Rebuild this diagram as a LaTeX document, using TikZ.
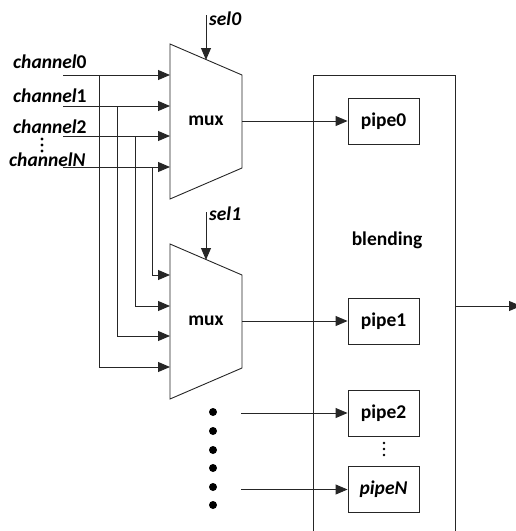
\documentclass[tikz,border=0pt]{standalone}
\usepackage{fontspec}
\setmainfont{Carlito}
\usetikzlibrary{arrows.meta}
\begin{document}
\begin{tikzpicture}[x=1pt,y=-1pt,
  wire/.style={line width=0.9pt,draw=black!85},
  arr/.style={wire,-{Triangle[length=12pt,width=10pt]}},
  lbl/.style={font=\fontsize{19.5}{19.5}\selectfont\bfseries\itshape,inner sep=0pt},
  txt/.style={font=\fontsize{19.5}{19.5}\selectfont\bfseries,inner sep=0pt},
  pipebox/.style={draw=black!85,line width=0.9pt,minimum width=71pt,minimum height=46pt,inner sep=0pt,font=\fontsize{19.5}{19.5}\selectfont\bfseries},
  bigdot/.style={circle,fill=black,inner sep=0pt,minimum size=8pt},
  smalldot/.style={circle,fill=black,inner sep=0pt,minimum size=3.2pt}]
\useasboundingbox (0,0) rectangle (516,531);
% muxes
\draw[wire] (170,44) -- (242,75) -- (242,168) -- (170,199) -- cycle;
\node[txt] (mux0) at (206,121) {mux};
\draw[wire] (170,244) -- (242,275) -- (242,368) -- (170,399) -- cycle;
\node[txt] (mux1) at (206,321) {mux};
% select lines
\coordinate (s0) at (206,15);
\coordinate (s0t) at (206,60);
\draw[arr] (s0) -- (s0t);
\node[lbl,anchor=west] (sel0) at (209,19) {sel0};
\coordinate (s1) at (206,212);
\coordinate (s1t) at (206,260);
\draw[arr] (s1) -- (s1t);
\node[lbl,anchor=west] (sel1) at (209,214) {sel1};
% channel labels
\node[lbl,anchor=west] (c0) at (13,62) {channel\upshape 0};
\node[lbl,anchor=west] (c1) at (13,96) {channel\upshape 1};
\node[lbl,anchor=west] (c2) at (13,127) {channel\upshape 2};
\node[lbl,anchor=west] (cN) at (9,160) {channelN};
\node[smalldot] (vd1) at (42,139) {};
\node[smalldot] (vd2) at (42,145) {};
\node[smalldot] (vd3) at (42,151) {};
% channel inputs to mux0
\coordinate (i0) at (63,75);
\coordinate (i1) at (63,106);
\coordinate (i2) at (63,136);
\coordinate (iN) at (63,167);
\coordinate (m0a) at (170,75);
\coordinate (m0b) at (170,106);
\coordinate (m0c) at (170,136);
\coordinate (m0d) at (170,167);
\draw[arr] (i0) -- (m0a);
\draw[arr] (i1) -- (m0b);
\draw[arr] (i2) -- (m0c);
\draw[arr] (iN) -- (m0d);
% branches to mux1
\coordinate (b0) at (99,75);
\coordinate (b1) at (117,106);
\coordinate (b2) at (135,136);
\coordinate (bN) at (152,167);
\coordinate (m1a) at (170,275);
\coordinate (m1b) at (170,306);
\coordinate (m1c) at (170,336);
\coordinate (m1d) at (170,367);
\draw[arr] (bN) |- (m1a);
\draw[arr] (b2) |- (m1b);
\draw[arr] (b1) |- (m1c);
\draw[arr] (b0) |- (m1d);
% blending block
\draw[wire] (313,540) -- (313,75) -- (455,75) -- (455,540);
\node[txt] (blend) at (387,240) {blending};
\node[pipebox] (p0) at (383.5,121) {pipe0};
\node[pipebox] (p1) at (383.5,321) {pipe1};
\node[pipebox] (p2) at (383.5,413) {pipe2};
\node[pipebox,font=\fontsize{19.5}{19.5}\selectfont\bfseries\itshape] (pN) at (383.5,489.5) {pipeN};
\node[smalldot,minimum size=2.8pt] (pd1) at (384,443) {};
\node[smalldot,minimum size=2.8pt] (pd2) at (384,449) {};
\node[smalldot,minimum size=2.8pt] (pd3) at (384,455) {};
% mux outputs
\coordinate (o0) at (242,121);
\coordinate (o1) at (242,321);
\draw[arr] (o0) -- (p0.west);
\draw[arr] (o1) -- (p1.west);
% other inputs
\foreach \y [count=\i] in {412,431,450,468,487,505} \node[bigdot] (bd\i) at (213,\y) {};
\coordinate (q2) at (241,413);
\coordinate (qN) at (241,489.5);
\draw[arr] (q2) -- (p2.west);
\draw[arr] (qN) -- (pN.west);
% blending output
\coordinate (bo) at (455,306);
\coordinate (be) at (521,306);
\draw[arr] (bo) -- (be);
\end{tikzpicture}
\end{document}
